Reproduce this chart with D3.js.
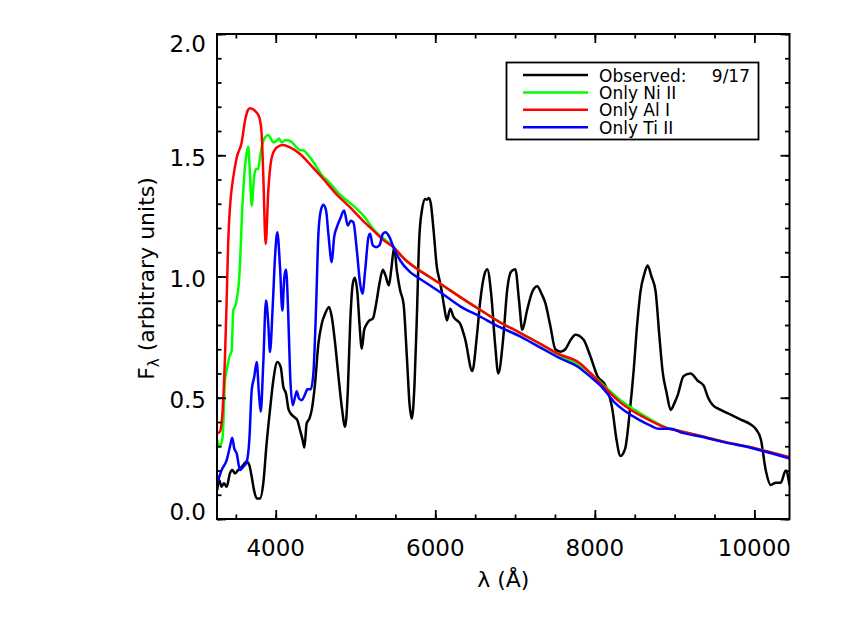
<!DOCTYPE html>
<html>
<head>
<meta charset="utf-8">
<script src="https://cdn.jsdelivr.net/npm/d3@7"></script>
<style>
body{margin:0;background:#fff}
text{font-family:"DejaVu Sans",sans-serif;fill:#000}
</style>
</head>
<body>
<div id="chart"></div>
<script>
// [wavelength (A), flux]
var observed = [[3267,0.119],[3292,0.16],[3322,0.133],[3351,0.147],[3385,0.133],[3426,0.188],[3455,0.202],[3489,0.188],[3530,0.202],[3573,0.215],[3636,0.236],[3669,0.222],[3699,0.174],[3728,0.119],[3762,0.085],[3803,0.085],[3844,0.147],[3886,0.312],[3928,0.449],[3970,0.572],[4020,0.647],[4062,0.627],[4096,0.544],[4129,0.517],[4158,0.456],[4188,0.435],[4230,0.421],[4271,0.407],[4305,0.366],[4338,0.325],[4359,0.295],[4388,0.394],[4422,0.414],[4451,0.449],[4493,0.558],[4535,0.723],[4577,0.805],[4619,0.846],[4669,0.874],[4703,0.833],[4745,0.723],[4787,0.586],[4828,0.462],[4870,0.38],[4904,0.531],[4933,0.805],[4966,0.97],[4991,0.995],[5025,0.929],[5050,0.805],[5079,0.702],[5108,0.778],[5142,0.805],[5175,0.819],[5217,0.826],[5259,0.888],[5300,0.97],[5343,1.028],[5376,1.004],[5418,0.963],[5447,1.025],[5485,1.121],[5518,1.025],[5560,0.942],[5602,0.888],[5644,0.668],[5677,0.476],[5706,0.414],[5740,0.558],[5769,0.833],[5798,1.148],[5832,1.272],[5874,1.32],[5895,1.317],[5920,1.324],[5945,1.299],[5979,1.189],[6020,1.038],[6054,0.984],[6083,0.935],[6112,0.874],[6146,0.819],[6187,0.867],[6229,0.833],[6271,0.819],[6313,0.805],[6376,0.74],[6464,0.61],[6520,0.75],[6564,0.9],[6610,1.0],[6652,1.03],[6700,0.93],[6750,0.72],[6790,0.6],[6850,0.74],[6903,0.95],[6950,1.02],[7003,1.03],[7050,0.9],[7091,0.78],[7150,0.86],[7220,0.94],[7279,0.96],[7330,0.93],[7380,0.89],[7440,0.8],[7505,0.7],[7570,0.69],[7630,0.7],[7700,0.74],[7756,0.76],[7857,0.74],[7945,0.67],[8032,0.59],[8133,0.55],[8221,0.45],[8270,0.33],[8321,0.26],[8380,0.29],[8440,0.45],[8486,0.61],[8530,0.8],[8573,0.94],[8620,1.01],[8661,1.045],[8710,1.0],[8761,0.94],[8810,0.75],[8849,0.61],[8900,0.52],[8950,0.45],[9000,0.48],[9038,0.51],[9113,0.59],[9201,0.6],[9289,0.57],[9364,0.55],[9420,0.5],[9477,0.47],[9578,0.45],[9703,0.43],[9829,0.41],[9954,0.39],[10020,0.37],[10080,0.33],[10143,0.2],[10205,0.14],[10270,0.15],[10330,0.15],[10393,0.2],[10440,0.14]]

var onlyNi = [[3267,0.325],[3301,0.30],[3335,0.339],[3364,0.572],[3385,0.613],[3418,0.668],[3448,0.695],[3468,0.86],[3502,0.888],[3543,0.997],[3586,1.313],[3627,1.491],[3656,1.535],[3677,1.423],[3699,1.292],[3728,1.409],[3753,1.443],[3780,1.443],[3803,1.491],[3832,1.546],[3866,1.573],[3907,1.583],[3941,1.567],[3970,1.553],[4012,1.56],[4041,1.569],[4075,1.553],[4117,1.562],[4146,1.562],[4188,1.557],[4264,1.532],[4305,1.521],[4340,1.521],[4430,1.491],[4597,1.411],[4640,1.398],[4800,1.34],[5017,1.279],[5100,1.251],[5225,1.195],[5476,1.122],[5620,1.07],[5770,1.032],[5920,1.0],[6062,0.97],[6313,0.915],[6550,0.865],[6817,0.81],[7050,0.77],[7300,0.725],[7550,0.675],[7800,0.635],[7950,0.6],[8100,0.555],[8322,0.49],[8500,0.45],[8700,0.41],[8900,0.377],[9100,0.36],[9326,0.342],[9600,0.32],[9953,0.296],[10200,0.275],[10440,0.255]]

var onlyAl = [[3267,0.353],[3300,0.36],[3335,0.45],[3364,0.668],[3385,0.9],[3405,1.148],[3430,1.3],[3468,1.41],[3511,1.49],[3573,1.553],[3615,1.642],[3650,1.685],[3677,1.694],[3740,1.683],[3794,1.656],[3824,1.587],[3844,1.42],[3874,1.134],[3907,1.354],[3950,1.49],[4012,1.532],[4088,1.542],[4180,1.532],[4305,1.505],[4450,1.455],[4597,1.402],[4760,1.34],[4933,1.285],[5080,1.235],[5225,1.189],[5350,1.15],[5476,1.12],[5620,1.07],[5770,1.032],[5920,1.0],[6062,0.97],[6313,0.915],[6550,0.865],[6817,0.81],[7050,0.77],[7300,0.725],[7550,0.68],[7800,0.645],[7950,0.6],[8100,0.55],[8322,0.48],[8500,0.44],[8700,0.405],[8900,0.375],[9100,0.36],[9326,0.342],[9600,0.32],[9953,0.296],[10200,0.275],[10440,0.255]]

var onlyTi = [[3267,0.147],[3322,0.202],[3385,0.243],[3426,0.298],[3455,0.335],[3480,0.291],[3511,0.27],[3552,0.202],[3593,0.215],[3636,0.236],[3669,0.325],[3699,0.531],[3731,0.586],[3762,0.647],[3787,0.531],[3812,0.442],[3844,0.641],[3878,0.901],[3907,0.805],[3928,0.689],[3962,0.874],[3991,1.079],[4020,1.182],[4054,1.038],[4083,0.86],[4108,0.997],[4129,1.029],[4154,0.874],[4180,0.6],[4213,0.469],[4242,0.503],[4264,0.527],[4292,0.497],[4326,0.49],[4368,0.514],[4397,0.535],[4439,0.535],[4472,0.6],[4506,0.874],[4535,1.176],[4565,1.272],[4597,1.296],[4631,1.272],[4660,1.176],[4703,1.059],[4732,1.162],[4766,1.203],[4807,1.237],[4857,1.272],[4904,1.21],[4941,1.23],[4974,1.223],[5017,1.107],[5058,0.97],[5087,0.929],[5121,1.025],[5162,1.162],[5183,1.176],[5217,1.128],[5259,1.121],[5300,1.128],[5343,1.176],[5376,1.182],[5426,1.162],[5476,1.121],[5560,1.066],[5685,1.018],[5811,0.99],[6062,0.935],[6313,0.877],[6560,0.835],[6817,0.79],[7050,0.755],[7300,0.71],[7550,0.665],[7800,0.625],[7950,0.585],[8100,0.54],[8250,0.48],[8400,0.44],[8550,0.41],[8700,0.385],[8800,0.372],[8950,0.372],[9100,0.355],[9326,0.34],[9600,0.318],[9953,0.294],[10200,0.272],[10440,0.25]]

var xTicks = [4000, 6000, 8000, 10000]
var yTicks = [0, 0.5, 1, 1.5, 2]
var legendNames = ['Observed:', 'Only Ni II', 'Only Al I', 'Only Ti II']
var legendColors = ['#000', '#00ff00', '#ff0000', '#0000ff']
var epochLabel = '9/17'

var width = 845, height = 623
var svg = d3.select('#chart').append('svg')
  .attr('width', width).attr('height', height)

var x = d3.scaleLinear().domain([3264, 10440]).range([217, 789.5])
var y = d3.scaleLinear().domain([0, 2]).range([519, 34])
var x0 = x.range()[0], x1 = x.range()[1], y0 = y.range()[0], y1 = y.range()[1]

svg.append('clipPath').attr('id', 'clip')
  .append('rect').attr('x', x0).attr('y', y1).attr('width', x1 - x0).attr('height', y0 - y1)

// spectra
var line = d3.line()
  .x(d => x(d[0]))
  .y(d => y(d[1]))
  .curve(d3.curveMonotoneX)

var series = [observed, onlyNi, onlyAl, onlyTi]
svg.append('g').attr('clip-path', 'url(#clip)')
  .selectAll('path').data(series).enter().append('path')
  .attr('d', line)
  .attr('fill', 'none')
  .attr('stroke', (d, i) => legendColors[i])
  .attr('stroke-width', 2.5)
  .attr('stroke-linejoin', 'round')

// ticks on all four sides, pointing in
var xMinor = d3.range(3500, 10440, 500)
var yMinor = d3.range(0, 2.001, 0.1)
function tickAxis(axis, tr, len, vals) {
  var g = svg.append('g').attr('transform', tr)
    .call(axis.tickValues(vals).tickSize(len).tickFormat(''))
  g.select('.domain').remove()
  g.selectAll('line').attr('stroke', '#000').attr('stroke-width', 1.8)
}
tickAxis(d3.axisBottom(x), 'translate(0,' + y0 + ')', -9, xTicks)
tickAxis(d3.axisBottom(x), 'translate(0,' + y0 + ')', -4.5, xMinor)
tickAxis(d3.axisTop(x), 'translate(0,' + y1 + ')', -9, xTicks)
tickAxis(d3.axisTop(x), 'translate(0,' + y1 + ')', -4.5, xMinor)
tickAxis(d3.axisLeft(y), 'translate(' + x0 + ',0)', -9, yTicks)
tickAxis(d3.axisLeft(y), 'translate(' + x0 + ',0)', -4.5, yMinor)
tickAxis(d3.axisRight(y), 'translate(' + x1 + ',0)', -9, yTicks)
tickAxis(d3.axisRight(y), 'translate(' + x1 + ',0)', -4.5, yMinor)

svg.append('rect')
  .attr('x', x0).attr('y', y1).attr('width', x1 - x0).attr('height', y0 - y1)
  .attr('fill', 'none').attr('stroke', '#000').attr('stroke-width', 2)

// tick labels
svg.selectAll('.xlab').data(xTicks).enter().append('text')
  .attr('x', d => x(d)).attr('y', 556)
  .attr('text-anchor', 'middle').attr('font-size', 23)
  .text(d => d)

svg.selectAll('.ylab').data(yTicks).enter().append('text')
  .attr('x', 206)
  .attr('y', d => Math.max(y1 + 18, Math.min(y0 + 0.5, y(d) + 10.5)))
  .attr('text-anchor', 'end').attr('font-size', 23)
  .text(d => d3.format('.1f')(d))

// axis titles
svg.append('text')
  .attr('x', (x0 + x1) / 2).attr('y', 587)
  .attr('text-anchor', 'middle').attr('font-size', 22)
  .text('λ (Å)')

var yt = svg.append('text')
  .attr('transform', 'translate(154,' + ((y0 + y1) / 2 + 2) + ') rotate(-90)')
  .attr('text-anchor', 'middle').attr('font-size', 22)
yt.append('tspan').text('F')
yt.append('tspan').attr('font-size', 15).attr('dy', 5).text('λ')
yt.append('tspan').attr('dy', -5).text(' (arbitrary units)')

// legend
var leg = svg.append('g')
leg.append('rect')
  .attr('x', 506.5).attr('y', 62.5).attr('width', 252).attr('height', 77)
  .attr('fill', '#fff').attr('stroke', '#000').attr('stroke-width', 1.8)
var rows = leg.selectAll('.row').data(legendNames).enter().append('g')
  .attr('transform', (d, i) => 'translate(0,' + (75 + i * 17.4) + ')')
rows.append('line')
  .attr('x1', 523).attr('x2', 588)
  .attr('stroke', (d, i) => legendColors[i]).attr('stroke-width', 2.5)
rows.append('text')
  .attr('x', 599).attr('y', 6.5).attr('font-size', 17)
  .text(d => d)
leg.append('text')
  .attr('x', 750).attr('y', 81.5).attr('text-anchor', 'end').attr('font-size', 17)
  .text(epochLabel)
</script>
</body>
</html>
